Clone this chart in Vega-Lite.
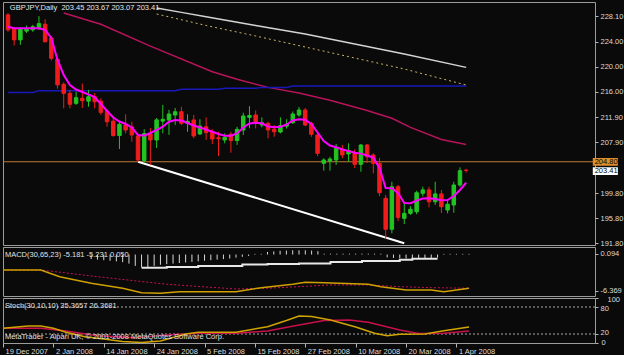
{
"$schema": "https://vega.github.io/schema/vega-lite/v6.json",
"usermeta": {"embedOptions": {"actions": false}},
"background": "#0a0a0a",
"padding": {"left": 2, "top": 1, "right": 0, "bottom": 0},
"bounds": "flush",
"spacing": 2,
"config": {
  "view": {"stroke": "#9c9c9c", "strokeWidth": 1, "fill": "#0a0a0a"},
  "axis": {"labelFont": "Liberation Sans", "labelFontSize": 7.5, "labelColor": "#dcdcdc", "tickColor": "#b4b4b4", "tickSize": 3, "labelPadding": 2, "domain": false, "grid": false, "labelOverlap": false, "labelBound": false}
},
"datasets": {
  "candles": [
{"i":0,"d":"2007-12-19","o":228.3,"h":228.6,"l":225.6,"c":225.9,"m":226.41},
{"i":1,"d":"2007-12-20","o":226.1,"h":226.3,"l":223.4,"c":224.3,"m":226.15},
{"i":2,"d":"2007-12-21","o":224.3,"h":226.3,"l":223.5,"c":226.1,"m":226.15},
{"i":3,"d":"2007-12-24","o":225.7,"h":226.6,"l":225.4,"c":226.1,"m":226.15},
{"i":4,"d":"2007-12-26","o":225.9,"h":226.7,"l":225.6,"c":226.4,"m":226.15},
{"i":5,"d":"2007-12-27","o":226.1,"h":228.1,"l":225.9,"c":226.9,"m":226.15},
{"i":6,"d":"2007-12-28","o":226.8,"h":227.6,"l":223.9,"c":224.0,"m":225.88},
{"i":7,"d":"2007-12-31","o":224.6,"h":224.9,"l":221.0,"c":221.35,"m":224.6},
{"i":8,"d":"2008-01-02","o":221.2,"h":221.5,"l":216.5,"c":217.1,"m":221.08},
{"i":9,"d":"2008-01-03","o":217.2,"h":217.5,"l":213.35,"c":215.75,"m":218.68},
{"i":10,"d":"2008-01-04","o":215.75,"h":216.3,"l":213.35,"c":214.0,"m":217.08},
{"i":11,"d":"2008-01-07","o":214.15,"h":216.0,"l":213.9,"c":215.05,"m":216.36},
{"i":12,"d":"2008-01-08","o":214.95,"h":217.3,"l":213.4,"c":214.57,"m":215.96},
{"i":13,"d":"2008-01-09","o":214.5,"h":216.3,"l":213.6,"c":215.2,"m":215.56},
{"i":14,"d":"2008-01-10","o":215.2,"h":215.8,"l":213.35,"c":214.4,"m":215.16},
{"i":15,"d":"2008-01-11","o":214.5,"h":214.95,"l":212.3,"c":212.7,"m":214.04},
{"i":16,"d":"2008-01-14","o":212.9,"h":213.1,"l":210.4,"c":211.2,"m":212.92},
{"i":17,"d":"2008-01-15","o":211.3,"h":212.0,"l":208.8,"c":209.0,"m":211.88},
{"i":18,"d":"2008-01-16","o":209.0,"h":211.16,"l":206.84,"c":210.8,"m":211.24},
{"i":19,"d":"2008-01-17","o":210.68,"h":212.4,"l":209.35,"c":209.88,"m":210.84},
{"i":20,"d":"2008-01-18","o":210.4,"h":211.2,"l":208.0,"c":209.08,"m":210.28},
{"i":21,"d":"2008-01-21","o":208.92,"h":209.2,"l":204.8,"c":205.08,"m":209.08},
{"i":22,"d":"2008-01-22","o":205.0,"h":210.0,"l":204.7,"c":209.3,"m":208.97},
{"i":23,"d":"2008-01-23","o":209.24,"h":210.2,"l":204.3,"c":208.28,"m":209.4},
{"i":24,"d":"2008-01-24","o":208.28,"h":211.8,"l":207.0,"c":211.5,"m":209.88},
{"i":25,"d":"2008-01-25","o":211.3,"h":213.9,"l":209.35,"c":211.6,"m":210.41},
{"i":26,"d":"2008-01-28","o":211.48,"h":213.1,"l":209.1,"c":212.44,"m":211.21},
{"i":27,"d":"2008-01-29","o":212.28,"h":213.4,"l":210.7,"c":212.8,"m":211.48},
{"i":28,"d":"2008-01-30","o":212.8,"h":213.6,"l":210.7,"c":210.95,"m":211.4},
{"i":29,"d":"2008-01-31","o":210.95,"h":212.4,"l":209.6,"c":211.27,"m":211.0},
{"i":30,"d":"2008-02-01","o":211.48,"h":212.3,"l":208.55,"c":208.92,"m":210.6},
{"i":31,"d":"2008-02-04","o":209.24,"h":211.6,"l":209.08,"c":210.52,"m":210.28},
{"i":32,"d":"2008-02-05","o":210.4,"h":211.9,"l":208.3,"c":209.45,"m":209.96},
{"i":33,"d":"2008-02-06","o":209.6,"h":210.0,"l":207.64,"c":208.44,"m":209.61},
{"i":34,"d":"2008-02-07","o":208.65,"h":209.6,"l":205.7,"c":208.49,"m":209.24},
{"i":35,"d":"2008-02-08","o":208.28,"h":209.35,"l":207.75,"c":208.7,"m":208.97},
{"i":36,"d":"2008-02-11","o":209.2,"h":209.6,"l":206.25,"c":208.2,"m":208.97},
{"i":37,"d":"2008-02-12","o":208.2,"h":210.4,"l":207.5,"c":209.99,"m":209.32},
{"i":38,"d":"2008-02-13","o":209.88,"h":212.65,"l":209.08,"c":212.12,"m":210.28},
{"i":39,"d":"2008-02-14","o":211.9,"h":213.7,"l":210.15,"c":212.2,"m":210.92},
{"i":40,"d":"2008-02-15","o":212.28,"h":213.0,"l":210.15,"c":211.2,"m":211.05},
{"i":41,"d":"2008-02-18","o":210.68,"h":211.9,"l":210.3,"c":211.05,"m":210.95},
{"i":42,"d":"2008-02-19","o":210.95,"h":211.2,"l":208.55,"c":209.88,"m":210.44},
{"i":43,"d":"2008-02-20","o":210.0,"h":210.68,"l":208.8,"c":209.6,"m":210.31},
{"i":44,"d":"2008-02-21","o":209.56,"h":211.9,"l":209.35,"c":210.57,"m":210.39},
{"i":45,"d":"2008-02-22","o":210.5,"h":211.6,"l":210.1,"c":210.8,"m":210.76},
{"i":46,"d":"2008-02-25","o":211.05,"h":212.85,"l":210.85,"c":212.44,"m":211.4},
{"i":47,"d":"2008-02-26","o":212.28,"h":213.56,"l":212.0,"c":213.08,"m":211.59},
{"i":48,"d":"2008-02-27","o":213.08,"h":213.4,"l":210.5,"c":210.68,"m":211.51},
{"i":49,"d":"2008-02-28","o":210.95,"h":211.2,"l":208.8,"c":209.2,"m":210.84},
{"i":50,"d":"2008-02-29","o":209.08,"h":209.3,"l":205.7,"c":206.14,"m":209.48},
{"i":51,"d":"2008-03-03","o":204.55,"h":205.35,"l":203.37,"c":205.08,"m":208.12},
{"i":52,"d":"2008-03-04","o":204.9,"h":205.6,"l":203.37,"c":205.24,"m":207.4},
{"i":53,"d":"2008-03-05","o":205.08,"h":207.64,"l":204.3,"c":206.95,"m":207.11},
{"i":54,"d":"2008-03-06","o":206.84,"h":207.5,"l":205.35,"c":205.88,"m":206.76},
{"i":55,"d":"2008-03-07","o":206.04,"h":207.75,"l":204.8,"c":206.57,"m":206.52},
{"i":56,"d":"2008-03-10","o":206.25,"h":206.8,"l":203.8,"c":204.39,"m":206.25},
{"i":57,"d":"2008-03-11","o":204.39,"h":207.64,"l":203.2,"c":207.48,"m":206.1},
{"i":58,"d":"2008-03-12","o":207.48,"h":207.64,"l":204.6,"c":205.6,"m":205.8},
{"i":59,"d":"2008-03-13","o":205.88,"h":206.15,"l":202.95,"c":204.55,"m":205.45},
{"i":60,"d":"2008-03-14","o":204.55,"h":205.4,"l":199.3,"c":199.85,"m":203.8},
{"i":61,"d":"2008-03-17","o":198.95,"h":199.5,"l":192.4,"c":194.0,"m":200.6},
{"i":62,"d":"2008-03-18","o":194.0,"h":201.6,"l":193.35,"c":200.8,"m":200.55},
{"i":63,"d":"2008-03-19","o":200.8,"h":201.1,"l":195.3,"c":195.9,"m":199.8},
{"i":64,"d":"2008-03-20","o":195.75,"h":198.15,"l":194.84,"c":196.55,"m":198.2},
{"i":65,"d":"2008-03-21","o":196.55,"h":197.7,"l":196.3,"c":197.2,"m":198.15},
{"i":66,"d":"2008-03-24","o":196.8,"h":200.15,"l":196.4,"c":199.85,"m":198.6},
{"i":67,"d":"2008-03-25","o":199.75,"h":200.8,"l":199.25,"c":200.3,"m":198.92},
{"i":68,"d":"2008-03-26","o":200.3,"h":200.8,"l":197.5,"c":198.4,"m":198.95},
{"i":69,"d":"2008-03-27","o":198.4,"h":201.6,"l":197.9,"c":199.65,"m":198.84},
{"i":70,"d":"2008-03-28","o":199.65,"h":200.3,"l":196.6,"c":197.6,"m":198.63},
{"i":71,"d":"2008-03-31","o":197.08,"h":198.7,"l":196.55,"c":198.0,"m":198.68},
{"i":72,"d":"2008-04-01","o":197.88,"h":201.6,"l":196.65,"c":201.08,"m":199.32},
{"i":73,"d":"2008-04-02","o":201.08,"h":203.9,"l":200.8,"c":203.37,"m":200.28},
{"i":74,"d":"2008-04-03","o":203.45,"h":203.67,"l":203.07,"c":203.41,"m":201.45}
  ],
  "maWhite": [{"i":24,"p":229.4},{"i":28,"p":228.7},{"i":32,"p":228.0},{"i":40,"p":226.6},{"i":48,"p":225.24},{"i":56,"p":223.64},{"i":64,"p":222.04},{"i":74,"p":219.9}],
  "maYellow": [{"i":24,"p":228.44},{"i":32,"p":226.6},{"i":40,"p":224.92},{"i":48,"p":223.16},{"i":56,"p":221.4},{"i":64,"p":219.64},{"i":74,"p":217.08}],
  "maBlue": [{"i":0,"p":215.9},{"i":4,"p":215.9},{"i":5,"p":216.17},{"i":27,"p":216.17},{"i":28,"p":216.4},{"i":34,"p":216.4},{"i":35,"p":216.55},{"i":40,"p":216.55},{"i":41,"p":216.7},{"i":45,"p":216.7},{"i":46,"p":216.92},{"i":74,"p":216.92}],
  "maCrimson": [{"i":9,"p":228.6},{"i":15,"p":226.8},{"i":23,"p":223.3},{"i":33,"p":219.2},{"i":37,"p":218.0},{"i":42,"p":216.7},{"i":47,"p":215.8},{"i":52,"p":214.65},{"i":58,"p":213.0},{"i":62,"p":211.75},{"i":65,"p":210.3},{"i":70,"p":208.35},{"i":74,"p":207.55}],
  "trend": [{"i":21,"p":204.8},{"i":64,"p":191.75}],
  "macdMain": [{"i":0,"v":-2.72},{"i":6,"v":-2.72},{"i":9,"v":-3.9},{"i":14,"v":-5.06},{"i":19,"v":-5.94},{"i":22,"v":-6.72},{"i":25,"v":-6.83},{"i":28,"v":-6.54},{"i":37,"v":-6.54},{"i":41,"v":-5.84},{"i":46,"v":-5.24},{"i":48,"v":-4.89},{"i":51,"v":-4.96},{"i":58,"v":-5.24},{"i":60,"v":-5.66},{"i":64,"v":-6.24},{"i":68,"v":-6.24},{"i":70,"v":-6.54},{"i":74,"v":-5.94}],
  "macdSignal": [{"i":0,"v":-2.72},{"i":6,"v":-2.72},{"i":15,"v":-3.9},{"i":26,"v":-5.24},{"i":37,"v":-6.07},{"i":42,"v":-5.94},{"i":47,"v":-5.66},{"i":52,"v":-5.36},{"i":58,"v":-5.36},{"i":63,"v":-5.66},{"i":68,"v":-5.84},{"i":74,"v":-5.94}],
  "macdStep": [{"i":22,"v":-2.32},{"i":26,"v":-2.19},{"i":31,"v":-2.02},{"i":38,"v":-1.75},{"i":42,"v":-1.67},{"i":47,"v":-1.58},{"i":52,"v":-1.31},{"i":57,"v":-1.14},{"i":63,"v":-0.91},{"i":65,"v":-0.75},{"i":69,"v":-0.75}],
  "osma": [{"i":14,"v":-0.8},{"i":15,"v":-0.9},{"i":16,"v":-1.0},{"i":17,"v":-1.1},{"i":18,"v":-1.2},{"i":19,"v":-1.35},{"i":20,"v":-1.6},{"i":21,"v":-2.0},{"i":22,"v":-2.25},{"i":23,"v":-2.2},{"i":24,"v":-2.0},{"i":25,"v":-1.8},{"i":26,"v":-1.7},{"i":27,"v":-1.6},{"i":28,"v":-1.5},{"i":29,"v":-1.4},{"i":30,"v":-1.3},{"i":31,"v":-1.2},{"i":32,"v":-1.1},{"i":33,"v":-1.0},{"i":34,"v":-0.9},{"i":35,"v":-0.8},{"i":36,"v":-0.7},{"i":37,"v":-0.55},{"i":38,"v":-0.4},{"i":39,"v":-0.25},{"i":40,"v":0.12},{"i":41,"v":0.12},{"i":42,"v":0.45},{"i":43,"v":0.55},{"i":44,"v":0.65},{"i":45,"v":0.7},{"i":46,"v":0.75},{"i":47,"v":0.75},{"i":48,"v":0.75},{"i":49,"v":0.7},{"i":50,"v":0.6},{"i":51,"v":0.15},{"i":52,"v":0.15},{"i":53,"v":0.15},{"i":54,"v":0.15},{"i":55,"v":0.15},{"i":56,"v":0.15},{"i":57,"v":0.15},{"i":58,"v":0.15},{"i":59,"v":0.15},{"i":60,"v":0.15},{"i":61,"v":-0.5},{"i":62,"v":-0.6},{"i":63,"v":-0.65},{"i":64,"v":-0.7},{"i":65,"v":-0.7},{"i":66,"v":-0.7},{"i":67,"v":-0.65},{"i":68,"v":-0.6},{"i":69,"v":-0.55},{"i":70,"v":0.12},{"i":71,"v":0.12},{"i":72,"v":0.12},{"i":73,"v":0.12},{"i":74,"v":0.12}],
  "stochK": [{"i":0,"v":32.7},{"i":4,"v":37.8},{"i":6,"v":37.8},{"i":8,"v":32.7},{"i":10,"v":23.8},{"i":13,"v":14},{"i":16,"v":8.9},{"i":19,"v":3.3},{"i":22,"v":1.1},{"i":25,"v":4.4},{"i":29,"v":20},{"i":31,"v":23.8},{"i":37,"v":23.8},{"i":42,"v":36.2},{"i":45,"v":50},{"i":47,"v":60},{"i":49,"v":58.9},{"i":52,"v":51.1},{"i":56,"v":35.6},{"i":59,"v":21.6},{"i":61,"v":16.2},{"i":63,"v":19.3},{"i":67,"v":20},{"i":70,"v":27.3},{"i":74,"v":35.4}],
  "stochD": [{"i":0,"v":32.7},{"i":6,"v":32.7},{"i":10,"v":26.7},{"i":15,"v":16.2},{"i":21,"v":11.8},{"i":26,"v":17.8},{"i":31,"v":21.6},{"i":37,"v":21.6},{"i":42,"v":26.7},{"i":47,"v":40},{"i":51,"v":50},{"i":55,"v":51.1},{"i":58,"v":46},{"i":63,"v":28.9},{"i":66,"v":21.1},{"i":70,"v":21.6},{"i":74,"v":26.4}]
},
"vconcat": [
{
  "width": 592, "height": 243,
  "layer": [
    {"data": {"name": "maCrimson"}, "mark": {"type": "line", "color": "#b8145a", "strokeWidth": 1.5, "clip": true},
     "encoding": {"x": {"field": "i", "type": "quantitative", "scale": {"domain": [0, 94], "nice": false, "zero": false}, "axis": null},
                  "y": {"field": "p", "type": "quantitative", "scale": {"domain": [191.48, 230.36], "nice": false, "zero": false},
                        "axis": {"orient": "right", "values": [191.8, 195.8, 199.8, 207.9, 211.9, 216, 220, 224, 228.1], "tickCount": 30, "format": ".2f", "title": null, "labelOverlap": false, "labelBound": false}}}},
    {"data": {"name": "maBlue"}, "mark": {"type": "line", "color": "#1818b8", "strokeWidth": 1.5, "clip": true},
     "encoding": {"x": {"field": "i", "type": "quantitative", "axis": null}, "y": {"field": "p", "type": "quantitative"}}},
    {"data": {"name": "maWhite"}, "mark": {"type": "line", "color": "#d4d4d4", "strokeWidth": 1.5, "clip": true},
     "encoding": {"x": {"field": "i", "type": "quantitative", "axis": null}, "y": {"field": "p", "type": "quantitative"}}},
    {"data": {"name": "maYellow"}, "mark": {"type": "line", "color": "#c8b464", "strokeWidth": 1, "strokeDash": [2, 3], "clip": true},
     "encoding": {"x": {"field": "i", "type": "quantitative", "axis": null}, "y": {"field": "p", "type": "quantitative"}}},
    {"data": {"values": [{}]}, "mark": {"type": "rule", "color": "#c07a30", "strokeWidth": 1, "clip": true},
     "encoding": {"y": {"datum": 204.8, "type": "quantitative"}}},
    {"data": {"name": "trend"}, "mark": {"type": "line", "color": "#ffffff", "strokeWidth": 2, "clip": true},
     "encoding": {"x": {"field": "i", "type": "quantitative", "axis": null}, "y": {"field": "p", "type": "quantitative"}}},
    {"data": {"name": "candles"}, "mark": {"type": "rule", "strokeWidth": 1, "clip": true},
     "encoding": {"x": {"field": "i", "type": "quantitative", "axis": null}, "y": {"field": "l", "type": "quantitative"}, "y2": {"field": "h"},
                  "color": {"condition": {"test": "datum.c >= datum.o", "value": "#22c422"}, "value": "#f01c1c"}}},
    {"data": {"name": "candles"}, "mark": {"type": "bar", "width": 3.5, "strokeWidth": 1, "clip": true},
     "encoding": {"x": {"field": "i", "type": "quantitative", "axis": null}, "y": {"field": "o", "type": "quantitative"}, "y2": {"field": "c"},
                  "color": {"condition": {"test": "datum.c >= datum.o", "value": "#22c422"}, "value": "#f01c1c"},
                  "stroke": {"condition": {"test": "datum.c >= datum.o", "value": "#22c422"}, "value": "#f01c1c"}}},
    {"data": {"name": "candles"}, "mark": {"type": "line", "color": "#ff00ff", "strokeWidth": 2, "clip": true},
     "encoding": {"x": {"field": "i", "type": "quantitative", "axis": null}, "y": {"field": "m", "type": "quantitative"}}},
    {"data": {"values": [{}]}, "mark": {"type": "text", "text": "GBPJPY,Daily\u00a0\u00a0203.45 203.67 203.07 203.41", "align": "left", "baseline": "middle", "font": "Liberation Sans", "fontSize": 7.5, "color": "#e6e6e6"},
     "encoding": {"x": {"datum": 0.3, "type": "quantitative", "axis": null}, "y": {"datum": 229.4, "type": "quantitative"}}},
    {"data": {"values": [{}]}, "mark": {"type": "rect", "color": "#e08c28", "clip": false},
     "encoding": {"x": {"datum": 94.45, "type": "quantitative", "axis": null}, "x2": {"datum": 98.5}, "y": {"datum": 205.42, "type": "quantitative"}, "y2": {"datum": 204.16}}},
    {"data": {"values": [{}]}, "mark": {"type": "rect", "color": "#ffffff", "clip": false},
     "encoding": {"x": {"datum": 94.45, "type": "quantitative", "axis": null}, "x2": {"datum": 98.5}, "y": {"datum": 203.91, "type": "quantitative"}, "y2": {"datum": 202.68}}},
    {"data": {"values": [{}]}, "mark": {"type": "text", "text": "204.80", "align": "left", "baseline": "middle", "font": "Liberation Sans", "fontSize": 7.5, "color": "#000000", "clip": false},
     "encoding": {"x": {"datum": 94.75, "type": "quantitative", "axis": null}, "y": {"datum": 204.8, "type": "quantitative"}}},
    {"data": {"values": [{}]}, "mark": {"type": "text", "text": "203.41", "align": "left", "baseline": "middle", "font": "Liberation Sans", "fontSize": 7.5, "color": "#000000", "clip": false},
     "encoding": {"x": {"datum": 94.75, "type": "quantitative", "axis": null}, "y": {"datum": 203.3, "type": "quantitative"}}}
  ]
},
{
  "width": 592, "height": 49,
  "layer": [
    {"data": {"name": "osma"}, "mark": {"type": "rule", "color": "#d8d8d8", "strokeWidth": 1, "clip": true},
     "encoding": {"x": {"field": "i", "type": "quantitative", "scale": {"domain": [0, 94], "nice": false, "zero": false}, "axis": null},
                  "y": {"field": "v", "type": "quantitative", "scale": {"domain": [-7.306, 1.327], "nice": false, "zero": false},
                        "axis": {"orient": "right", "values": [0.094, -6.369], "tickCount": 10, "labelExpr": "datum.value < 0 ? '-6.369' : '0.094'", "title": null, "labelOverlap": false}},
                  "y2": {"datum": 0}}},
    {"data": {"name": "macdStep"}, "mark": {"type": "line", "color": "#e8e8e8", "strokeWidth": 2, "interpolate": "step-after", "clip": true},
     "encoding": {"x": {"field": "i", "type": "quantitative", "axis": null}, "y": {"field": "v", "type": "quantitative"}}},
    {"data": {"name": "macdSignal"}, "mark": {"type": "line", "color": "#c8105a", "strokeWidth": 1, "strokeDash": [2, 2], "clip": true},
     "encoding": {"x": {"field": "i", "type": "quantitative", "axis": null}, "y": {"field": "v", "type": "quantitative"}}},
    {"data": {"name": "macdMain"}, "mark": {"type": "line", "color": "#d0a000", "strokeWidth": 1.5, "clip": true},
     "encoding": {"x": {"field": "i", "type": "quantitative", "axis": null}, "y": {"field": "v", "type": "quantitative"}}},
    {"data": {"values": [{}]}, "mark": {"type": "text", "text": "MACD(30,65,23) -5.181 -5.231 0.050", "align": "left", "baseline": "middle", "font": "Liberation Sans", "fontSize": 7.5, "color": "#e0e0e0"},
     "encoding": {"x": {"datum": 0.3, "type": "quantitative", "axis": null}, "y": {"datum": -0.08, "type": "quantitative"}}}
  ]
},
{
  "width": 592, "height": 45,
  "layer": [
    {"data": {"values": [{}]}, "mark": {"type": "rule", "color": "#a8a8a8", "strokeWidth": 1, "strokeDash": [2, 2], "clip": true},
     "encoding": {"y": {"datum": 80, "type": "quantitative", "scale": {"domain": [0, 100], "nice": false, "zero": false},
                        "axis": {"orient": "right", "values": [0, 20, 80, 100], "tickCount": 20, "title": null, "labelOverlap": false, "labelBound": false,
                                 "labelOffset": {"condition": [{"test": "datum.value == 100", "value": 1}, {"test": "datum.value == 80", "value": 1.5}, {"test": "datum.value == 20", "value": -1.5}, {"test": "datum.value == 0", "value": -1}], "value": 0},
                                 "labelPadding": {"condition": [{"test": "datum.value == 100", "value": 9}, {"test": "datum.value == 0", "value": 3}], "value": 2}}}}},
    {"data": {"values": [{}]}, "mark": {"type": "rule", "color": "#a8a8a8", "strokeWidth": 1, "strokeDash": [2, 2], "clip": true},
     "encoding": {"y": {"datum": 20, "type": "quantitative"}}},
    {"data": {"name": "stochD"}, "mark": {"type": "line", "color": "#c8104a", "strokeWidth": 1.5, "clip": true},
     "encoding": {"x": {"field": "i", "type": "quantitative", "scale": {"domain": [0, 94], "nice": false, "zero": false},
                        "axis": {"orient": "bottom", "values": [0, 8, 16, 24, 32, 40, 48, 56, 64, 72], "tickCount": 30, "title": null, "labelOverlap": false,
                                 "labelExpr": "['19 Dec 2007','2 Jan 2008','14 Jan 2008','24 Jan 2008','5 Feb 2008','15 Feb 2008','27 Feb 2008','10 Mar 2008','20 Mar 2008','1 Apr 2008'][round(datum.value/8)]",
                                 "labelAlign": "left", "labelBaseline": "top", "labelOffset": 2, "labelPadding": 0, "tickSize": 4, "labelFlush": false}},
                  "y": {"field": "v", "type": "quantitative"}}},
    {"data": {"name": "stochK"}, "mark": {"type": "line", "color": "#d0a400", "strokeWidth": 1.5, "clip": true},
     "encoding": {"x": {"field": "i", "type": "quantitative"}, "y": {"field": "v", "type": "quantitative"}}},
    {"data": {"values": [{}]}, "mark": {"type": "text", "text": "Stoch(30,10,10) 35.3657 26.3681", "align": "left", "baseline": "middle", "font": "Liberation Sans", "fontSize": 7.5, "color": "#e0e0e0"},
     "encoding": {"x": {"datum": 0.3, "type": "quantitative"}, "y": {"datum": 82.2, "type": "quantitative"}}},
    {"data": {"values": [{}]}, "mark": {"type": "text", "text": "MetaTrader - Alpari UK, © 2001-2008 MetaQuotes Software Corp.", "align": "left", "baseline": "middle", "font": "Liberation Sans", "fontSize": 7.5, "color": "#e0e0e0"},
     "encoding": {"x": {"datum": 0.3, "type": "quantitative"}, "y": {"datum": 14, "type": "quantitative"}}}
  ]
}
]
}
